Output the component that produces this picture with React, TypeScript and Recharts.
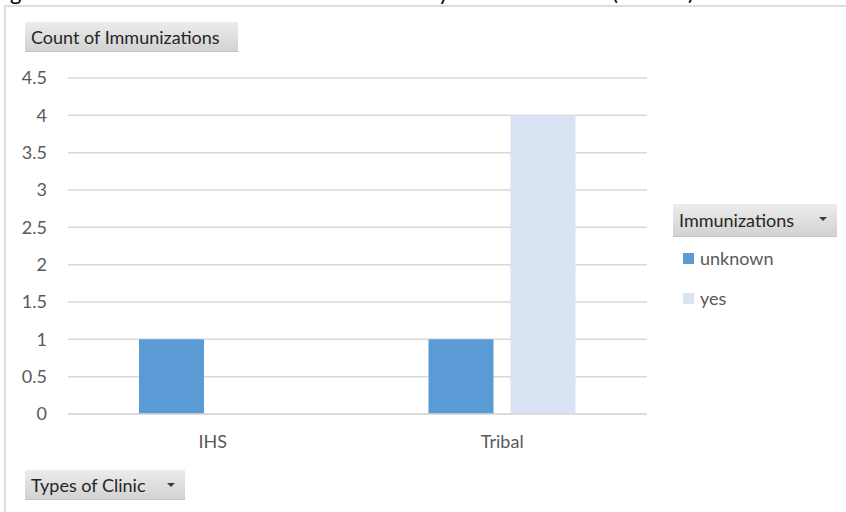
import React from 'react';
import {
  Bar,
  BarChart,
  CartesianGrid,
  Legend,
  XAxis,
  YAxis
} from 'recharts';

const clinics = ['IHS', 'Tribal'];
const unknownCounts = [1, 1];
const yesCounts: (number | null)[] = [null, 4];
const yTicks = [0, 0.5, 1, 1.5, 2, 2.5, 3, 3.5, 4, 4.5];

const FONT = 'Lato, "Noto Sans", sans-serif';
const GRID = '#d9d9d9';
const TICK = '#595959';

const chartData = clinics.map((c, i) => ({
  clinic: c,
  unknown: unknownCounts[i],
  yes: yesCounts[i]
}));

// excel pivot-style field button
const FieldButton = ({ label, arrow, style }: { label: string; arrow?: boolean; style: React.CSSProperties }) => (
  <div
    style={{
      position: 'absolute',
      boxSizing: 'border-box',
      height: 31,
      paddingLeft: 6,
      display: 'flex',
      alignItems: 'center',
      background: 'linear-gradient(#ececec, #d2d2d2)',
      borderBottom: '1px solid #c4c4c4',
      color: '#262626',
      fontSize: 18,
      fontFamily: FONT,
      whiteSpace: 'nowrap',
      ...style
    }}
  >
    {label}
    {arrow && (
      <span
        style={{
          position: 'absolute',
          right: 10,
          top: 13,
          width: 0,
          height: 0,
          borderLeft: '4px solid transparent',
          borderRight: '4px solid transparent',
          borderTop: '4px solid #3a3a3a'
        }}
      />
    )}
  </div>
);

const renderLegend = (props: any) => {
  const { payload } = props;
  return (
    <div style={{ fontFamily: FONT }}>
      <div style={{ position: 'relative', width: 164, height: 33 }}>
        <FieldButton label="Immunizations" arrow style={{ left: 0, top: 0, width: 164, height: 33 }} />
      </div>
      {(payload || []).map((p: any, i: number) => (
        <div
          key={p.value}
          style={{
            display: 'flex',
            alignItems: 'center',
            height: 40,
            marginTop: i === 0 ? 1 : 0,
            paddingLeft: 10,
            color: TICK,
            fontSize: 18
          }}
        >
          <span style={{ width: 11, height: 11, background: p.color, marginRight: 6 }} />
          {p.value}
        </div>
      ))}
    </div>
  );
};

export default function App() {
  return (
    <div
      style={{
        position: 'absolute',
        left: 0,
        top: 0,
        width: 846,
        height: 512,
        overflow: 'hidden',
        background: '#fff',
        fontFamily: FONT
      }}
    >
      {/* cut-off caption line above the chart */}
      <div style={{ position: 'absolute', left: 0, top: 0, width: 846, height: 5, overflow: 'hidden' }}>
        {[
          { ch: 'g', x: 10 },
          { ch: 'y', x: 438 },
          { ch: '(', x: 612 },
          { ch: ')', x: 688 }
        ].map(s => (
          <span
            key={s.x}
            style={{
              position: 'absolute',
              left: s.x,
              top: -19,
              fontSize: 22,
              lineHeight: '22px',
              color: '#000',
              fontFamily: FONT
            }}
          >
            {s.ch}
          </span>
        ))}
      </div>

      {/* chart frame */}
      <div
        style={{
          position: 'absolute',
          left: 4,
          top: 5,
          width: 900,
          height: 600,
          border: '2px solid #dedede',
          boxSizing: 'border-box'
        }}
      />

      <div style={{ position: 'absolute', left: 0, top: 0 }}>
        <BarChart
          width={846}
          height={512}
          data={chartData}
          margin={{ top: 78, right: 199, bottom: 0, left: 0 }}
          barGap={17}
          barSize={65}
        >
          <CartesianGrid horizontal vertical={false} stroke={GRID} strokeWidth={1.5} />
          <XAxis
            dataKey="clinic"
            axisLine={{ stroke: GRID, strokeWidth: 1.5 }}
            tickLine={false}
            tickSize={0}
            tickMargin={21}
            height={98}
            tick={{ fill: TICK, fontSize: 18, fontFamily: FONT }}
          />
          <YAxis
            domain={[0, 4.5]}
            ticks={yTicks}
            axisLine={false}
            tickLine={false}
            tickSize={0}
            tickMargin={21}
            width={68}
            interval={0}
            tick={{ fill: TICK, fontSize: 18, fontFamily: FONT }}
          />
          {/* centered/middle so it reserves no room; placed by wrapperStyle */}
          <Legend
            layout="vertical"
            verticalAlign="middle"
            align="center"
            wrapperStyle={{ left: 673, top: 204, width: 170 }}
            content={renderLegend}
          />
          <Bar dataKey="unknown" name="unknown" fill="#5b9bd5" isAnimationActive={false} />
          <Bar dataKey="yes" name="yes" fill="#dae3f3" isAnimationActive={false} />
        </BarChart>
      </div>

      <FieldButton label="Count of Immunizations" style={{ left: 25, top: 22, width: 213, height: 30 }} />
      <FieldButton label="Types of Clinic" arrow style={{ left: 25, top: 470, width: 160, height: 30 }} />
    </div>
  );
}
